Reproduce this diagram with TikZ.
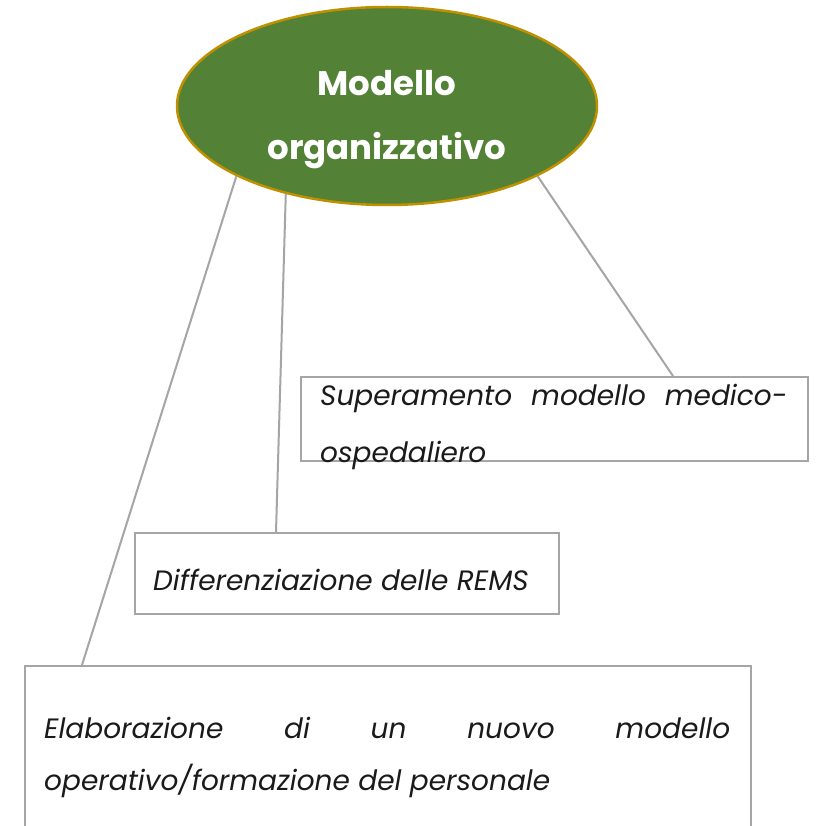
\documentclass[tikz,border=0pt]{standalone}
\usepackage{fontspec}
\setmainfont{Poppins}
\usetikzlibrary{shapes.geometric,calc}
\definecolor{ogreen}{HTML}{538135}
\definecolor{ogold}{HTML}{BF9000}
\definecolor{lgray}{HTML}{A5A5A5}
\definecolor{txt}{HTML}{1A1A1A}
\tikzset{
  conn/.style={draw=lgray, line width=2pt},
  boxnode/.style={draw=lgray, line width=2pt, fill=white, rectangle, inner sep=0pt, anchor=north west},
  ttl/.style={text=white, font=\bfseries\fontsize{34}{40}\selectfont, inner sep=0pt, anchor=base},
  itx/.style={text=txt, font=\itshape\fontsize{28}{32}\selectfont, inner sep=0pt, anchor=base west},
}
\begin{document}
\begin{tikzpicture}[x=1pt,y=-1pt]
\useasboundingbox (0,0) rectangle (820,826);
\clip (0,0) rectangle (820,826);
\fill[white] (0,0) rectangle (820,826);
% root
\node[ellipse, minimum width=420pt, minimum height=198pt, inner sep=0pt, fill=ogreen, draw=ogold, line width=2.5pt] (root) at (387,106) {};
\node[ttl] (t1) at (387,96) {Modello};
\node[ttl] (t2) at (387,160) {organizzativo};
% boxes
\node[boxnode, minimum width=507pt, minimum height=84pt] (b1) at (300,376) {};
\node[boxnode, minimum width=424pt, minimum height=81pt] (b2) at (134,532) {};
\node[boxnode, minimum width=726pt, minimum height=200pt] (b3) at (24,665) {};
% texts
\node[itx] (s1) at (320,405) {\makebox[467pt][s]{Superamento modello medico-}};
\node[itx] (s2) at (320,462) {ospedaliero};
\node[itx] (d1) at (153,590) {Differenziazione delle REMS};
\node[itx] (e1) at (44,738) {\makebox[686pt][s]{Elaborazione di un nuovo modello}};
\node[itx] (e2) at (44,790) {operativo/formazione del personale};
% connector ends
\coordinate (c1) at (82,665);
\coordinate (c2) at (276,532);
\coordinate (c3) at (673,376);
\draw[conn] (root.205.8) -- (c1);
\draw[conn] (root.221.7) -- (c2);
\draw[conn] (root.335) -- (c3);
\end{tikzpicture}
\end{document}
